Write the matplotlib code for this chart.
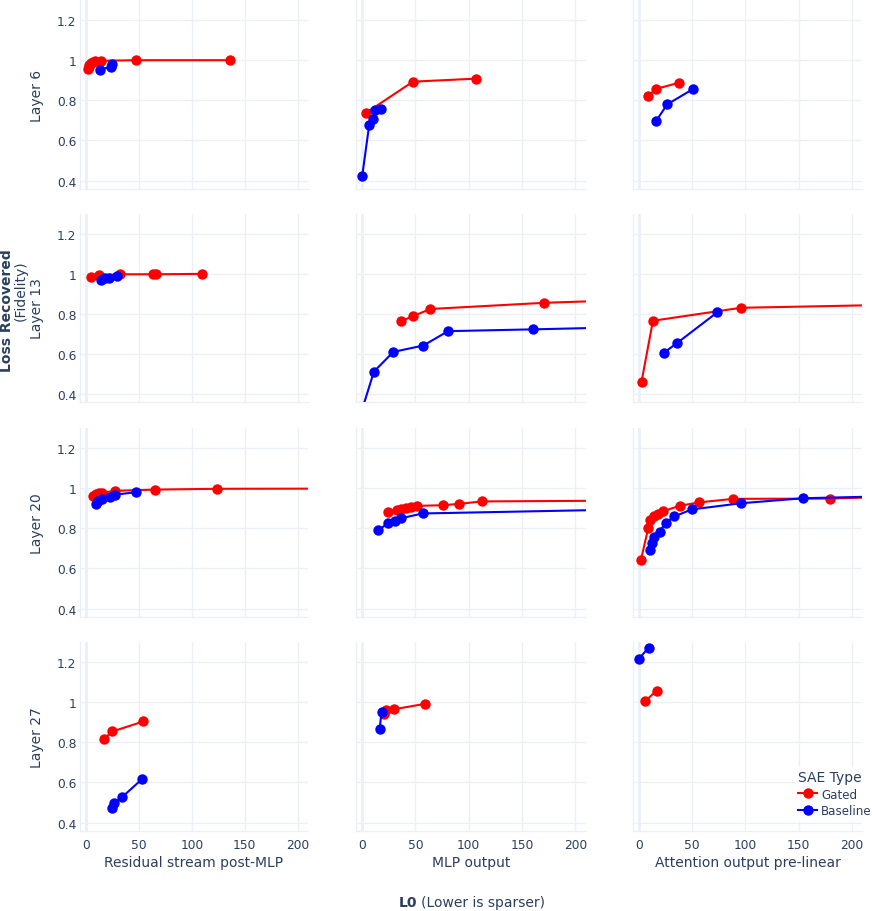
import matplotlib
matplotlib.use("Agg")
import matplotlib.pyplot as plt
from matplotlib.lines import Line2D

# ---------------- data ----------------
rows = ["Layer 6", "Layer 13", "Layer 20", "Layer 27"]
cols = ["Residual stream post-MLP", "MLP output", "Attention output pre-linear"]
series_names = ["Gated", "Baseline"]

# Layer 6
l6_res_gated_x = [1.3, 2.5, 3.1, 4.7, 6.3, 8.0, 14.5, 46.9, 135.8]
l6_res_gated_y = [0.955, 0.965, 0.975, 0.987, 0.993, 0.995, 0.997, 1.0, 1.0]
l6_res_base_x = [13.2, 23.3, 24.2]
l6_res_base_y = [0.953, 0.967, 0.982]
l6_mlp_gated_x = [3.8, 47.6, 106.7]
l6_mlp_gated_y = [0.738, 0.893, 0.908]
l6_mlp_base_x = [0.0, 6.6, 10.6, 12.2, 17.5]
l6_mlp_base_y = [0.422, 0.678, 0.708, 0.750, 0.755]
l6_att_gated_x = [8.8, 16.3, 37.9]
l6_att_gated_y = [0.823, 0.857, 0.888]
l6_att_base_x = [16.3, 26.6, 51.1]
l6_att_base_y = [0.698, 0.780, 0.857]

# Layer 13
l13_res_gated_x = [4.7, 12.6, 32.0, 63.5, 65.7, 109.7]
l13_res_gated_y = [0.982, 0.993, 0.998, 0.998, 0.998, 1.0]
l13_res_base_x = [14.5, 17.6, 22.0, 29.2]
l13_res_base_y = [0.967, 0.977, 0.977, 0.988]
l13_mlp_gated_x = [36.0, 47.3, 63.8, 170.9, 350.0]
l13_mlp_gated_y = [0.762, 0.787, 0.824, 0.855, 0.887]
l13_mlp_base_x = [0.5, 11.0, 29.2, 57.4, 80.6, 160.6, 330.0]
l13_mlp_base_y = [0.330, 0.510, 0.609, 0.641, 0.713, 0.722, 0.743]
l13_att_gated_x = [2.5, 13.2, 95.6, 400.0]
l13_att_gated_y = [0.460, 0.765, 0.830, 0.862]
l13_att_base_x = [23.8, 36.0, 73.7]
l13_att_base_y = [0.606, 0.654, 0.808]

# Layer 20
l20_res_gated_x = [6.9, 9.4, 11.9, 15.1, 27.7, 65.4, 123.3, 400.0]
l20_res_gated_y = [0.963, 0.970, 0.975, 0.978, 0.987, 0.993, 0.997, 0.999]
l20_res_base_x = [9.7, 11.6, 15.1, 22.6, 27.4, 47.5]
l20_res_base_y = [0.919, 0.934, 0.947, 0.957, 0.968, 0.980]
l20_mlp_gated_x = [24.1, 32.6, 36.6, 41.0, 46.0, 51.6, 75.4, 91.1, 112.0, 400.0]
l20_mlp_gated_y = [0.879, 0.892, 0.897, 0.902, 0.907, 0.912, 0.915, 0.922, 0.934, 0.943]
l20_mlp_base_x = [15.3, 24.4, 31.0, 36.3, 56.7, 400.0]
l20_mlp_base_y = [0.790, 0.827, 0.838, 0.850, 0.874, 0.910]
l20_att_gated_x = [1.9, 8.8, 10.0, 13.8, 18.2, 22.3, 38.2, 56.1, 88.7, 179.6, 300.0]
l20_att_gated_y = [0.641, 0.802, 0.840, 0.860, 0.870, 0.884, 0.912, 0.929, 0.947, 0.948, 0.968]
l20_att_base_x = [10.0, 11.9, 14.4, 19.4, 25.4, 33.2, 49.5, 95.9, 154.5, 300.0]
l20_att_base_y = [0.691, 0.726, 0.756, 0.784, 0.829, 0.859, 0.894, 0.925, 0.950, 0.968]

# Layer 27
l27_res_gated_x = [16.7, 24.8, 54.1]
l27_res_gated_y = [0.817, 0.854, 0.904]
l27_res_base_x = [24.8, 26.7, 34.0, 53.1]
l27_res_base_y = [0.471, 0.497, 0.527, 0.618]
l27_mlp_gated_x = [20.0, 22.8, 30.0, 59.2]
l27_mlp_gated_y = [0.942, 0.960, 0.965, 0.992]
l27_mlp_base_x = [16.3, 18.2]
l27_mlp_base_y = [0.864, 0.952]
l27_att_gated_x = [6.0, 16.6]
l27_att_gated_y = [1.005, 1.058]
l27_att_base_x = [-0.3, 9.1]
l27_att_base_y = [1.214, 1.272]

x_ticks = [0, 50, 100, 150, 200]
y_ticks = [0.4, 0.6, 0.8, 1.0, 1.2]
y_tick_labels = ["0.4", "0.6", "0.8", "1", "1.2"]

data = [
    [((l6_res_gated_x, l6_res_gated_y), (l6_res_base_x, l6_res_base_y)),
     ((l6_mlp_gated_x, l6_mlp_gated_y), (l6_mlp_base_x, l6_mlp_base_y)),
     ((l6_att_gated_x, l6_att_gated_y), (l6_att_base_x, l6_att_base_y))],
    [((l13_res_gated_x, l13_res_gated_y), (l13_res_base_x, l13_res_base_y)),
     ((l13_mlp_gated_x, l13_mlp_gated_y), (l13_mlp_base_x, l13_mlp_base_y)),
     ((l13_att_gated_x, l13_att_gated_y), (l13_att_base_x, l13_att_base_y))],
    [((l20_res_gated_x, l20_res_gated_y), (l20_res_base_x, l20_res_base_y)),
     ((l20_mlp_gated_x, l20_mlp_gated_y), (l20_mlp_base_x, l20_mlp_base_y)),
     ((l20_att_gated_x, l20_att_gated_y), (l20_att_base_x, l20_att_base_y))],
    [((l27_res_gated_x, l27_res_gated_y), (l27_res_base_x, l27_res_base_y)),
     ((l27_mlp_gated_x, l27_mlp_gated_y), (l27_mlp_base_x, l27_mlp_base_y)),
     ((l27_att_gated_x, l27_att_gated_y), (l27_att_base_x, l27_att_base_y))],
]

# ---------------- style ----------------
plt.rcParams["font.family"] = ["DejaVu Sans"]
W, H = 872, 912
TXT = "#2a3f5f"
GRID = "#EBF0F8"
colors = ["#FF0000", "#0000FF"]

fig = plt.figure(figsize=(W / 100, H / 100), dpi=100)
fig.patch.set_facecolor("white")

col_px = [(80, 308), (356, 585.7), (632.7, 862.3)]
row_px = [(1, 190), (215, 403), (429, 618), (643, 832)]

for r in range(4):
    for c in range(3):
        x0, x1 = col_px[c]
        y0, y1 = row_px[r]
        ax = fig.add_axes([x0 / W, 1 - y1 / H, (x1 - x0) / W, (y1 - y0) / H])
        ax.set_facecolor("white")
        for (sx, sy), col in zip(data[r][c], colors):
            ax.plot(sx, sy, color=col, lw=1.5, marker="o", ms=7.5,
                    markeredgewidth=0, zorder=3)
        ax.set_xlim(-5.8, 209.7)
        ax.set_ylim(0.358, 1.30)
        ax.set_xticks(x_ticks)
        ax.set_yticks(y_ticks)
        ax.grid(True, color=GRID, lw=1, zorder=0)
        ax.axvline(0, color=GRID, lw=2, zorder=1)
        for s in ["top", "right"]:
            ax.spines[s].set_visible(False)
        for s in ["left", "bottom"]:
            ax.spines[s].set_color(GRID)
            ax.spines[s].set_linewidth(1)
        ax.tick_params(axis="y", length=0, colors=TXT, labelsize=8.8, pad=2.5)
        ax.tick_params(axis="x", length=0, colors=TXT, labelsize=8.8, pad=5)
        if c == 0:
            ax.set_yticklabels(y_tick_labels)
        else:
            ax.set_yticklabels([])
        if r == 3:
            ax.set_xticklabels([str(v) for v in x_ticks])
            ax.set_xlabel(cols[c], color=TXT, fontsize=10, labelpad=3)
        else:
            ax.set_xticklabels([])
        if c == 0:
            ax.text((37 - x0) / (x1 - x0), 0.5, rows[r], rotation=90,
                    transform=ax.transAxes, ha="center", va="center",
                    color=TXT, fontsize=10)

# global y label
fig.text(7 / W, 1 - 311 / H, "Loss Recovered", rotation=90, ha="center",
         va="center", color=TXT, fontsize=10, weight="bold")
fig.text(21 / W, 1 - 291 / H, "(Fidelity)", rotation=90, ha="center",
         va="center", color=TXT, fontsize=10)

# global x label
fig.text(417 / W, 1 - 903 / H, "L0", ha="right", va="center", color=TXT,
         fontsize=10, weight="bold")
fig.text(421 / W, 1 - 903 / H, "(Lower is sparser)", ha="left", va="center",
         color=TXT, fontsize=10)

# legend
handles = [Line2D([0], [0], color=col, lw=1.5, marker="o", ms=7.5,
                  markeredgewidth=0) for col in colors]
leg = fig.legend(handles, series_names, title="SAE Type", loc="upper left",
                 bbox_to_anchor=(795 / W, 1 - 768 / H), frameon=True,
                 fontsize=8.6, title_fontsize=10, handlelength=1.6,
                 handletextpad=0.35, borderpad=0.25, labelspacing=0.3,
                 alignment="left", borderaxespad=0)
leg.get_frame().set_facecolor("white")
leg.get_frame().set_edgecolor("white")
leg.get_frame().set_alpha(1)
leg.get_title().set_color(TXT)
for t in leg.get_texts():
    t.set_color(TXT)

fig.savefig("out.png", dpi=100, facecolor="white")
